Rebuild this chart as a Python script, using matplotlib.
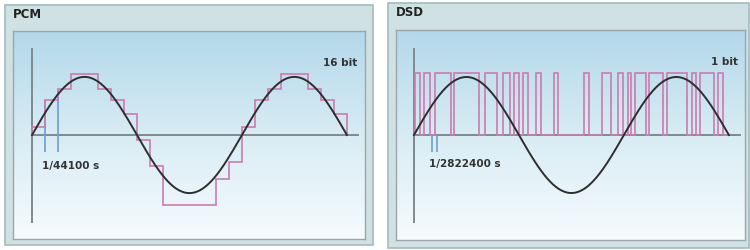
import numpy as np
import matplotlib.pyplot as plt
from matplotlib.patches import Rectangle
from matplotlib.colors import LinearSegmentedColormap

# --- данные ---
# PCM: уровни ступенек (16 отсчётов на период синуса)
pcm_levels = [0.14, 0.6, 0.8, 1.05, 1.05, 0.8, 0.6, 0.37,
              -0.09, -0.53, -1.2, -1.2, -1.2, -1.2, -0.76, -0.46,
              0.14, 0.6, 0.8, 1.05, 1.05, 0.8, 0.6, 0.37]
pcm_marks = [1, 2]
pcm_label = '1/44100 s'
pcm_bits = '16 bit'

# DSD: начало и конец импульсов (в тех же единицах времени)
dsd_start = [0.1, 0.75, 1.6, 3.05, 5.4, 6.8, 7.6, 8.3, 9.3, 10.65,
             12.95, 14.35, 15.55, 16.3, 16.85, 17.9, 19.3, 21.2, 21.8, 23.15]
dsd_end = [0.45, 1.2, 2.8, 4.95, 6.3, 7.3, 8.0, 8.7, 9.7, 11.0,
           13.35, 15.0, 15.95, 16.55, 17.7, 19.0, 20.8, 21.5, 22.85, 23.55]
dsd_high = 1.07
dsd_marks = [1.37, 1.72]
dsd_label = '1/2822400 s'
dsd_bits = '1 bit'

period = 16
t_end = 24

PINK = '#cc7bb0'
GRAY = '#7d8b8f'
BLUE = '#6a9fd8'
DARK = '#2e2e2e'

W, H = 750, 250
fig = plt.figure(figsize=(7.5, 2.5), dpi=100)
fig.patch.set_facecolor('white')

grad_cmap = LinearSegmentedColormap.from_list('bg', ['#f6fbfd', '#d8ecf4', '#b3d8ea'])


def px_box(x0, y0, x1, y1):
    # пиксели (сверху вниз) -> доли фигуры
    return [x0 / W, 1 - y1 / H, (x1 - x0) / W, (y1 - y0) / H]


def panel(outer, inner, title, xlim, ylim):
    b = px_box(*outer)
    fig.add_artist(Rectangle((b[0], b[1]), b[2], b[3], transform=fig.transFigure,
                             facecolor='#d0e1e4', edgecolor='#a3bbbf', lw=1.2, zorder=-10))
    fig.text(b[0] + 8 / W, 1 - (outer[1] + 10) / H, title, fontsize=8.5,
             fontweight='bold', color='#222222', va='center', ha='left')
    ax = fig.add_axes(px_box(*inner))
    ax.set_zorder(1)
    ax.set_xlim(*xlim)
    ax.set_ylim(*ylim)
    ax.imshow(np.linspace(0, 1, 200).reshape(-1, 1), cmap=grad_cmap, origin='lower',
              extent=[xlim[0], xlim[1], ylim[0], ylim[1]], aspect='auto', zorder=0)
    ax.set_xticks([])
    ax.set_yticks([])
    for s in ax.spines.values():
        s.set_color('#9aa6a9')
        s.set_linewidth(1.0)
    # оси
    ax.plot([0, 0], [-1.5, 1.48], color=GRAY, lw=1.4, zorder=1)
    ax.plot([0, 24.85], [0, 0], color=GRAY, lw=1.4, zorder=1)
    return ax


t = np.linspace(0, t_end, 600)
wave = np.sin(2 * np.pi * t / period)

# PCM
ax1 = panel((5, 5, 373, 245), (13, 31, 365, 239), 'PCM', (-1.45, 25.38), (-1.79, 1.79))
ax1.vlines(pcm_marks, -0.3, [pcm_levels[m] for m in pcm_marks], color=BLUE, lw=1.2, zorder=2)
ax1.stairs(pcm_levels, np.arange(len(pcm_levels) + 1), baseline=0, fill=False,
           color=PINK, lw=1.2, zorder=3)
ax1.plot(t, wave, color=DARK, lw=1.4, zorder=4)
ax1.text(0.76, -0.53, pcm_label, fontsize=7.5, fontweight='bold', color='#333333',
         ha='left', va='center')
ax1.text(24.77, 1.24, pcm_bits, fontsize=7.5, fontweight='bold', color='#333333',
         ha='right', va='center')

# DSD
ax2 = panel((388, 3, 749, 248), (396, 30, 745, 240), 'DSD', (-1.37, 25.23), (-1.81, 1.81))
edges = [0.0]
vals = []
for s, e in zip(dsd_start, dsd_end):
    vals += [0, dsd_high]
    edges += [s, e]
vals.append(0)
edges.append(t_end)
ax2.vlines(dsd_marks, -0.3, 0, color=BLUE, lw=1.2, zorder=2)
ax2.stairs(vals, edges, baseline=None, color=PINK, lw=1.2, zorder=3)
ax2.plot(t, wave, color=DARK, lw=1.4, zorder=4)
ax2.text(1.14, -0.5, dsd_label, fontsize=7.5, fontweight='bold', color='#333333',
         ha='left', va='center')
ax2.text(24.7, 1.26, dsd_bits, fontsize=7.5, fontweight='bold', color='#333333',
         ha='right', va='center')

fig.savefig('out.png', dpi=100, facecolor='white')
